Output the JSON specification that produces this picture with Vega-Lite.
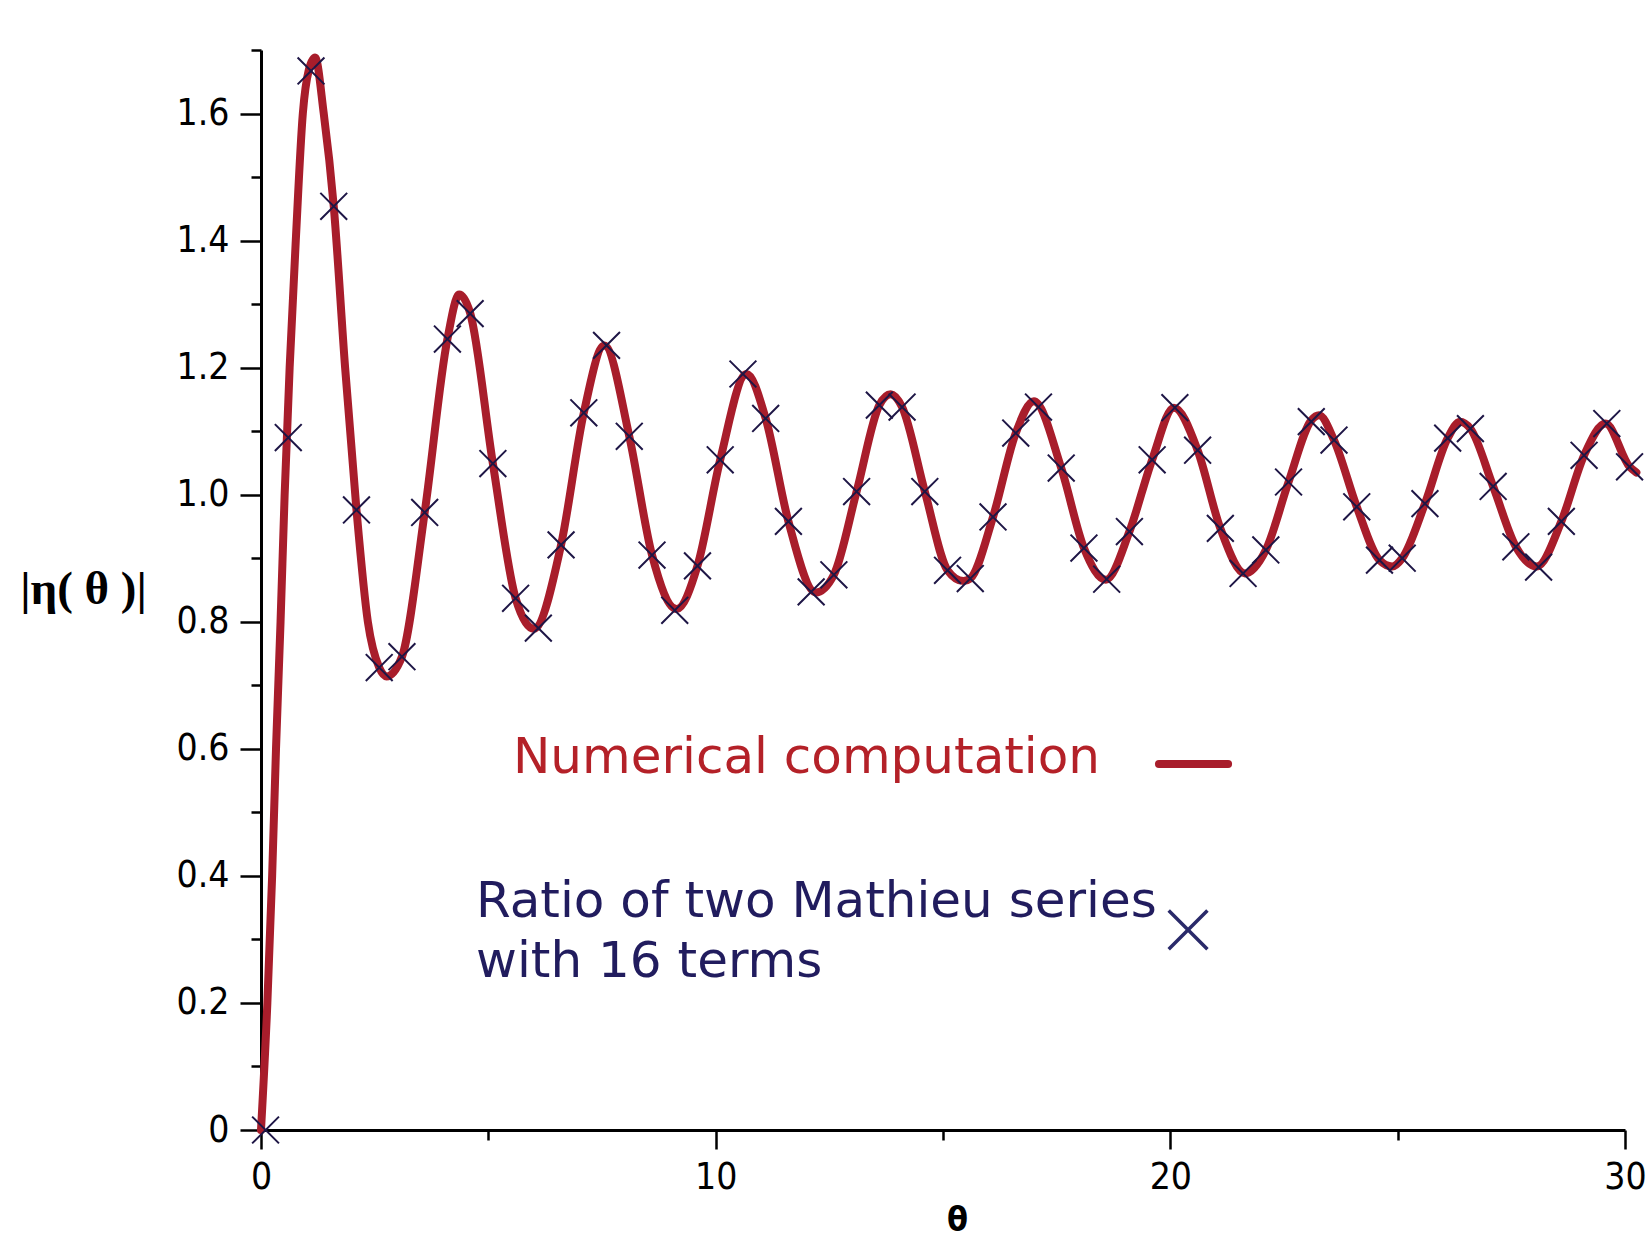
{
  "$schema": "https://vega.github.io/schema/vega-lite/v6.json",
  "autosize": {"type": "none"},
  "padding": {"left": 261, "top": 50, "right": 23, "bottom": 112},
  "width": 1364,
  "height": 1080,
  "background": "white",
  "config": {"view": {"stroke": null}},
  "datasets": {
    "curve": [
      {"theta": 0, "eta": 0}, {"theta": 0.14, "eta": 0.2}, {"theta": 0.245, "eta": 0.4}, {"theta": 0.33, "eta": 0.6},
      {"theta": 0.43, "eta": 0.8}, {"theta": 0.52, "eta": 1.0}, {"theta": 0.63, "eta": 1.2}, {"theta": 0.765, "eta": 1.4},
      {"theta": 0.92, "eta": 1.6}, {"theta": 1.05, "eta": 1.668}, {"theta": 1.19, "eta": 1.688}, {"theta": 1.38, "eta": 1.6},
      {"theta": 1.6, "eta": 1.454}, {"theta": 1.85, "eta": 1.2}, {"theta": 2.1, "eta": 0.976}, {"theta": 2.35, "eta": 0.8},
      {"theta": 2.6, "eta": 0.728}, {"theta": 2.76, "eta": 0.714}, {"theta": 3.1, "eta": 0.745}, {"theta": 3.6, "eta": 0.972},
      {"theta": 4.1, "eta": 1.245}, {"theta": 4.36, "eta": 1.315}, {"theta": 4.6, "eta": 1.286}, {"theta": 5.1, "eta": 1.049},
      {"theta": 5.6, "eta": 0.837}, {"theta": 6.0, "eta": 0.789}, {"theta": 6.6, "eta": 0.921}, {"theta": 7.1, "eta": 1.129},
      {"theta": 7.55, "eta": 1.235}, {"theta": 8.1, "eta": 1.092}, {"theta": 8.6, "eta": 0.905}, {"theta": 9.14, "eta": 0.82},
      {"theta": 9.6, "eta": 0.888}, {"theta": 10.1, "eta": 1.055}, {"theta": 10.68, "eta": 1.19}, {"theta": 11.1, "eta": 1.12},
      {"theta": 11.6, "eta": 0.958}, {"theta": 12.2, "eta": 0.846}, {"theta": 12.6, "eta": 0.874}, {"theta": 13.1, "eta": 1.005},
      {"theta": 13.6, "eta": 1.141}, {"theta": 13.85, "eta": 1.158}, {"theta": 14.1, "eta": 1.138}, {"theta": 14.6, "eta": 1.005},
      {"theta": 15.1, "eta": 0.881}, {"theta": 15.45, "eta": 0.864}, {"theta": 15.6, "eta": 0.868}, {"theta": 16.1, "eta": 0.965},
      {"theta": 16.6, "eta": 1.097}, {"theta": 17.0, "eta": 1.147}, {"theta": 17.6, "eta": 1.042}, {"theta": 18.1, "eta": 0.916},
      {"theta": 18.58, "eta": 0.866}, {"theta": 19.1, "eta": 0.942}, {"theta": 19.6, "eta": 1.055}, {"theta": 20.08, "eta": 1.137},
      {"theta": 20.6, "eta": 1.07}, {"theta": 21.1, "eta": 0.947}, {"theta": 21.64, "eta": 0.876}, {"theta": 22.1, "eta": 0.913},
      {"theta": 22.6, "eta": 1.02}, {"theta": 23.1, "eta": 1.117}, {"theta": 23.27, "eta": 1.125}, {"theta": 23.6, "eta": 1.086},
      {"theta": 24.1, "eta": 0.981}, {"theta": 24.6, "eta": 0.897}, {"theta": 24.88, "eta": 0.887}, {"theta": 25.1, "eta": 0.9},
      {"theta": 25.6, "eta": 0.986}, {"theta": 26.1, "eta": 1.089}, {"theta": 26.37, "eta": 1.115}, {"theta": 26.6, "eta": 1.104},
      {"theta": 27.1, "eta": 1.013}, {"theta": 27.6, "eta": 0.918}, {"theta": 28.06, "eta": 0.887}, {"theta": 28.6, "eta": 0.958},
      {"theta": 29.1, "eta": 1.062}, {"theta": 29.57, "eta": 1.112}, {"theta": 30.1, "eta": 1.044}, {"theta": 30.25, "eta": 1.035}
    ],
    "crosses": [
      {"theta": 0.1, "eta": 0.0}, {"theta": 0.6, "eta": 1.09}, {"theta": 1.1, "eta": 1.667}, {"theta": 1.6, "eta": 1.454},
      {"theta": 2.1, "eta": 0.976}, {"theta": 2.6, "eta": 0.728}, {"theta": 3.1, "eta": 0.745}, {"theta": 3.6, "eta": 0.972},
      {"theta": 4.1, "eta": 1.245}, {"theta": 4.6, "eta": 1.285}, {"theta": 5.1, "eta": 1.049}, {"theta": 5.6, "eta": 0.837},
      {"theta": 6.1, "eta": 0.79}, {"theta": 6.6, "eta": 0.921}, {"theta": 7.1, "eta": 1.129}, {"theta": 7.6, "eta": 1.235},
      {"theta": 8.1, "eta": 1.092}, {"theta": 8.6, "eta": 0.905}, {"theta": 9.1, "eta": 0.818}, {"theta": 9.6, "eta": 0.888},
      {"theta": 10.1, "eta": 1.055}, {"theta": 10.6, "eta": 1.19}, {"theta": 11.1, "eta": 1.12}, {"theta": 11.6, "eta": 0.958},
      {"theta": 12.1, "eta": 0.847}, {"theta": 12.6, "eta": 0.874}, {"theta": 13.1, "eta": 1.005}, {"theta": 13.6, "eta": 1.141},
      {"theta": 14.1, "eta": 1.138}, {"theta": 14.6, "eta": 1.005}, {"theta": 15.1, "eta": 0.881}, {"theta": 15.6, "eta": 0.868},
      {"theta": 16.1, "eta": 0.965}, {"theta": 16.6, "eta": 1.097}, {"theta": 17.1, "eta": 1.138}, {"theta": 17.6, "eta": 1.042},
      {"theta": 18.1, "eta": 0.916}, {"theta": 18.6, "eta": 0.867}, {"theta": 19.1, "eta": 0.942}, {"theta": 19.6, "eta": 1.055},
      {"theta": 20.1, "eta": 1.137}, {"theta": 20.6, "eta": 1.07}, {"theta": 21.1, "eta": 0.947}, {"theta": 21.6, "eta": 0.876},
      {"theta": 22.1, "eta": 0.913}, {"theta": 22.6, "eta": 1.02}, {"theta": 23.1, "eta": 1.115}, {"theta": 23.6, "eta": 1.086},
      {"theta": 24.1, "eta": 0.981}, {"theta": 24.6, "eta": 0.897}, {"theta": 25.1, "eta": 0.9}, {"theta": 25.6, "eta": 0.986},
      {"theta": 26.1, "eta": 1.089}, {"theta": 26.6, "eta": 1.104}, {"theta": 27.1, "eta": 1.013}, {"theta": 27.6, "eta": 0.918},
      {"theta": 28.1, "eta": 0.886}, {"theta": 28.6, "eta": 0.958}, {"theta": 29.1, "eta": 1.062}, {"theta": 29.6, "eta": 1.112},
      {"theta": 30.1, "eta": 1.044}
    ],
    "labels": [
      {"theta": 5.54, "eta": 0.562, "label": "Numerical computation", "series": "numerical"},
      {"theta": 4.73, "eta": 0.3345, "label": "Ratio of two Mathieu series", "series": "ratio"},
      {"theta": 4.73, "eta": 0.241, "label": "with 16 terms", "series": "ratio"}
    ],
    "keyLine": [
      {"theta": 19.75, "eta": 0.576},
      {"theta": 21.27, "eta": 0.576}
    ],
    "keyCross": [
      {"theta": 20.39, "eta": 0.315}
    ]
  },
  "layer": [
    {
      "data": {"name": "curve"},
      "mark": {"type": "line", "interpolate": "monotone", "color": "#a81d2b", "strokeWidth": 8, "strokeCap": "round", "strokeJoin": "round"},
      "encoding": {
        "x": {
          "field": "theta", "type": "quantitative",
          "scale": {"domain": [0, 30], "nice": false, "zero": false},
          "axis": {
            "title": "θ",
            "titleFont": "DejaVu Sans Condensed, DejaVu Sans",
            "titleFontSize": 34,
            "titleFontWeight": "bold",
            "titleColor": "#000000",
            "titleAnchor": "start",
            "titleAlign": "center",
            "titleBaseline": "alphabetic",
            "titleX": 696,
            "titleY": 100,
            "values": [0, 5, 10, 15, 20, 25, 30],
            "labelExpr": "datum.value % 10 == 0 ? format(datum.value, 'd') : ''",
            "labelFont": "DejaVu Sans Condensed, DejaVu Sans",
            "labelFontSize": 37,
            "labelFontWeight": "normal",
            "labelColor": "#000000",
            "labelPadding": 10,
            "labelFlush": false,
            "labelOverlap": false,
            "domainColor": "#000000",
            "domainWidth": 3,
            "tickColor": "#000000",
            "tickWidth": 2.5,
            "tickSize": {"condition": {"test": "datum.value % 10 == 0", "value": 19}, "value": 10},
            "grid": false
          }
        },
        "y": {
          "field": "eta", "type": "quantitative",
          "scale": {"domain": [0, 1.7], "nice": false, "zero": false},
          "axis": {
            "title": "|η( θ )|",
            "titleFont": "Liberation Serif",
            "titleFontSize": 47,
            "titleFontWeight": "bold",
            "titleColor": "#000000",
            "titleAngle": 0,
            "titleAlign": "center",
            "titleBaseline": "middle",
            "titleAnchor": "start",
            "titleX": -178,
            "titleY": 539,
            "values": [0, 0.1, 0.2, 0.3, 0.4, 0.5, 0.6, 0.7, 0.8, 0.9, 1.0, 1.1, 1.2, 1.3, 1.4, 1.5, 1.6, 1.7],
            "labelExpr": "round(datum.value * 10) % 2 == 0 ? (datum.value == 0 ? '0' : format(datum.value, '.1f')) : ''",
            "labelFont": "DejaVu Sans Condensed, DejaVu Sans",
            "labelFontSize": 37,
            "labelFontWeight": "normal",
            "labelColor": "#000000",
            "labelPadding": 11,
            "labelFlush": false,
            "labelOverlap": false,
            "domainColor": "#000000",
            "domainWidth": 3,
            "tickColor": "#000000",
            "tickWidth": 2.5,
            "tickSize": {"condition": {"test": "round(datum.value * 10) % 2 == 0", "value": 21}, "value": 10},
            "grid": false
          }
        }
      }
    },
    {
      "data": {"name": "crosses"},
      "mark": {"type": "point", "shape": "M-1,-1L1,1M-1,1L1,-1", "filled": false, "size": 720, "stroke": "#1e1646", "strokeWidth": 2, "opacity": 1},
      "encoding": {
        "x": {"field": "theta", "type": "quantitative"},
        "y": {"field": "eta", "type": "quantitative"}
      }
    },
    {
      "data": {"name": "labels"},
      "mark": {"type": "text", "align": "left", "baseline": "alphabetic", "font": "DejaVu Sans", "fontSize": 50},
      "encoding": {
        "x": {"field": "theta", "type": "quantitative"},
        "y": {"field": "eta", "type": "quantitative"},
        "text": {"field": "label"},
        "color": {"field": "series", "type": "nominal", "scale": {"domain": ["numerical", "ratio"], "range": ["#b42128", "#211c5e"]}, "legend": null}
      }
    },
    {
      "data": {"name": "keyLine"},
      "mark": {"type": "line", "color": "#a81d2b", "strokeWidth": 8, "strokeCap": "round"},
      "encoding": {
        "x": {"field": "theta", "type": "quantitative"},
        "y": {"field": "eta", "type": "quantitative"}
      }
    },
    {
      "data": {"name": "keyCross"},
      "mark": {"type": "point", "shape": "M-1,-1L1,1M-1,1L1,-1", "filled": false, "size": 1500, "stroke": "#2a2a6a", "strokeWidth": 3.5, "opacity": 1},
      "encoding": {
        "x": {"field": "theta", "type": "quantitative"},
        "y": {"field": "eta", "type": "quantitative"}
      }
    }
  ]
}
